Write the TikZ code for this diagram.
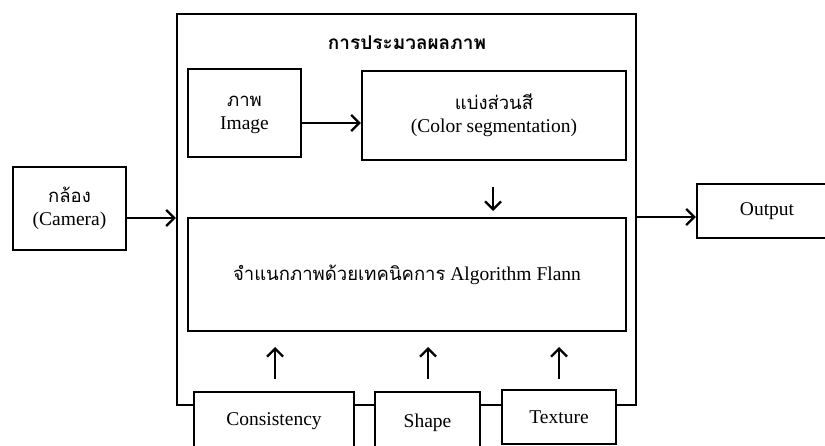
\documentclass[tikz,border=0pt]{standalone}
\usepackage{fontspec}
\setmainfont{Liberation Serif}
\newfontfamily\thaifont[Script=Thai]{Loma}
\newcommand{\thtxt}[1]{{\thaifont\fontsize{18.5}{22}\selectfont #1}}
\usetikzlibrary{arrows.meta}
\tikzset{
  box/.style={draw, line width=2.3pt, fill=white, inner sep=0pt, align=center, font=\fontsize{19.5}{23}\selectfont},
  arr/.style={line width=2.3pt, -{Straight Barb[length=8pt,width=16pt,line width=2.3pt]}},
}
\begin{document}
\begin{tikzpicture}[x=1pt,y=-1pt]
\clip (0,0) rectangle (825,446);
\useasboundingbox (0,0) rectangle (825,446);
\fill[white] (0,0) rectangle (825,446);
% outer processing box
\node[box, minimum width=459, minimum height=391] (outer) at (406.5,209.5) {};
\node[font=\thaifont\bfseries\fontsize{19}{22}\selectfont, inner sep=0pt] (title) at (407,43) {การประมวลผลภาพ};
% camera
\node[box, minimum width=113, minimum height=83] (cam) at (69.5,208.5) {\thtxt{กล้อง}\\(Camera)};
% image
\node[draw, line width=2.3pt, fill=white, inner sep=0pt, font=\fontsize{19.5}{23}\selectfont, minimum width=113, minimum height=88] (img) at (244.5,113) {\raisebox{-4pt}{\begin{tabular}{@{}c@{}}\thtxt{ภาพ}\\Image\end{tabular}}};
% color segmentation
\node[box, minimum width=264, minimum height=89] (col) at (494,115.5) {\thtxt{แบ่งส่วนสี}\\(Color segmentation)};
% algorithm
\node[box, minimum width=438, minimum height=113] (alg) at (407,274.5) {\thtxt{จำแนกภาพด้วยเทคนิคการ} Algorithm Flann};
% output
\node[box, minimum width=140, minimum height=54] (out) at (767,211) {Output};
% bottom feature boxes
\node[box, anchor=north, minimum width=160, text height=33, text depth=40] (cons) at (274,391) {Consistency};
\node[box, anchor=north, minimum width=105, text height=35, text depth=40] (shape) at (427.5,391) {Shape};
\node[box, anchor=north, minimum width=114, minimum height=54] (tex) at (559,389) {Texture};
% connectors
\draw[arr] ([yshift=-9.5pt]cam.east) -- ([yshift=-9.5pt]cam.east -| outer.west);
\draw[arr] ([yshift=-6pt]outer.east |- out.west) -- ([yshift=-6pt]out.west);
\draw[arr] ([yshift=-10pt]img.east) -- ([yshift=-10pt]img.east -| col.west);
\coordinate (d1) at (493,187);
\coordinate (d2) at (493,211);
\draw[arr] (d1) -- (d2);
\coordinate (u1a) at (275,379);
\coordinate (u1b) at (275,347);
\coordinate (u2a) at (428,379);
\coordinate (u2b) at (428,347);
\coordinate (u3a) at (559,379);
\coordinate (u3b) at (559,347);
\draw[arr] (u1a) -- (u1b);
\draw[arr] (u2a) -- (u2b);
\draw[arr] (u3a) -- (u3b);
\end{tikzpicture}
\end{document}
